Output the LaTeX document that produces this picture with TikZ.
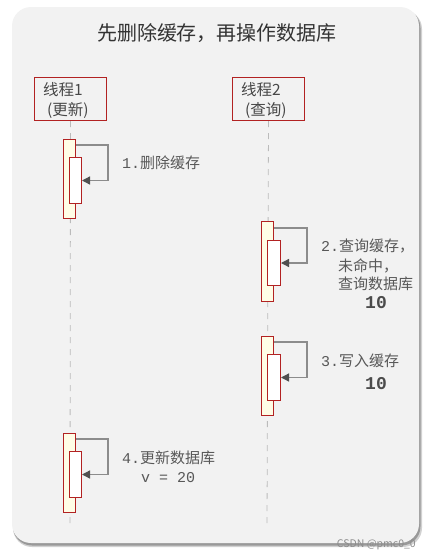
\documentclass[tikz,border=0pt]{standalone}
\usepackage{fontspec}
\setmainfont{Noto Sans CJK SC}
\newfontfamily\cjkf{Noto Sans CJK SC}
\newfontfamily\monof{Liberation Mono}
\usetikzlibrary{arrows.meta}
\definecolor{panelc}{HTML}{F2F2F2}
\definecolor{boxred}{HTML}{B22222}
\definecolor{actfill}{HTML}{FFFDE6}
\definecolor{lbl}{HTML}{585858}
\definecolor{ttl}{HTML}{333333}
\definecolor{loopc}{HTML}{8C8C8C}
\definecolor{tipc}{HTML}{505050}
\definecolor{lifec}{HTML}{BBBBBB}
\begin{document}
\begin{tikzpicture}[x=1pt,y=-1pt,
  thread/.style={draw=boxred, line width=1pt, fill=panelc, minimum width=72pt, minimum height=43pt, inner sep=0pt},
  threadtxt/.style={inner sep=0pt, text=ttl!90, font=\cjkf\fontsize{15.5}{18}\selectfont},
  life/.style={draw=lifec, line width=0.8pt, dash pattern=on 6pt off 6pt},
  actout/.style={draw=boxred, line width=1pt, fill=actfill, minimum width=12pt, inner sep=0pt},
  actin/.style={draw=boxred, line width=1pt, fill=white, minimum width=12pt, inner sep=0pt},
  loopline/.style={draw=loopc, line width=1.3pt, -{Triangle[length=8pt,width=8pt,color=tipc]}},
  lbltxt/.style={inner sep=0pt, anchor=base west, text=lbl, font=\fontsize{15}{18}\selectfont},
  valtxt/.style={inner sep=0pt, anchor=base, text=lbl!85!black, font=\monof\bfseries\fontsize{18}{20}\selectfont}
]
\useasboundingbox (0,0) rectangle (431,558);
% panel with shadow
\fill[black!18, rounded corners=19pt] (13,10) rectangle (422,547);
\fill[black!40, rounded corners=19pt] (13,9) rectangle (420.5,545.5);
\fill[panelc, rounded corners=19pt] (12,7) rectangle (419,543);
% title
\node[inner sep=0pt, text=ttl, font=\cjkf\fontsize{20}{24}\selectfont] (title) at (217,33) {先删除缓存，再操作数据库};
% threads
\node[thread, anchor=north west] (t1) at (34,77) {};
\node[thread, anchor=north west] (t2) at (232,77) {};
\node[threadtxt, anchor=base west] (t1a) at (43,95.5) {线程1};
\node[threadtxt, anchor=base west] (t1b) at (47,115.5) {(更新)};
\node[threadtxt, anchor=base west] (t2a) at (241,95.5) {线程2};
\node[threadtxt, anchor=base west] (t2b) at (245,115.5) {(查询)};
% lifelines
\coordinate (e1) at (70,525);
\coordinate (e2) at (267,525);
\draw[life] (t1.south) -- (e1);
\draw[life] (t2.south) -- (e2);
% activation 1
\node[actout, minimum height=79pt, anchor=north west] (a1o) at (63,139) {};
\node[actin, minimum height=46pt, anchor=north west] (a1i) at (69,157) {};
\draw[loopline] ([yshift=-6pt]a1o.north east) -- ++(32,0) |- (a1i.east);
% activation 2
\node[actout, minimum height=80pt, anchor=north west] (a2o) at (261,221) {};
\node[actin, minimum height=45pt, minimum width=13pt, anchor=north west] (a2i) at (267,240) {};
\draw[loopline] ([yshift=-7pt]a2o.north east) -- ++(33,0) |- (a2i.east);
% activation 3
\node[actout, minimum height=79pt, anchor=north west] (a3o) at (261,336) {};
\node[actin, minimum height=46pt, minimum width=13pt, anchor=north west] (a3i) at (267,354) {};
\draw[loopline] ([yshift=-6pt]a3o.north east) -- ++(33,0) |- (a3i.east);
% activation 4
\node[actout, minimum height=79pt, anchor=north west] (a4o) at (63,433) {};
\node[actin, minimum height=46pt, anchor=north west] (a4i) at (69,451) {};
\draw[loopline] ([yshift=-6pt]a4o.north east) -- ++(32,0) |- (a4i.east);
% labels
\node[lbltxt] (l1) at (122,168) {{\monof 1.}删除缓存};
\node[lbltxt] (l2a) at (321,251) {{\monof 2.}查询缓存，};
\node[lbltxt] (l2b) at (338,271) {未命中，};
\node[lbltxt] (l2c) at (338,289) {查询数据库};
\node[valtxt] (l2d) at (376,308.5) {10};
\node[lbltxt] (l3a) at (321,366) {{\monof 3.}写入缓存};
\node[valtxt] (l3b) at (376,389.5) {10};
\node[lbltxt] (l4a) at (122,463) {{\monof 4.}更新数据库};
\node[lbltxt, font=\monof\fontsize{15}{18}\selectfont] (l4b) at (141,482) {v = 20};
% watermark
\node[inner sep=0pt, anchor=base east, text=black!45, font=\cjkf\fontsize{10.5}{12}\selectfont] (wm) at (416,547) {CSDN @pmc0\_0};
\end{tikzpicture}
\end{document}
